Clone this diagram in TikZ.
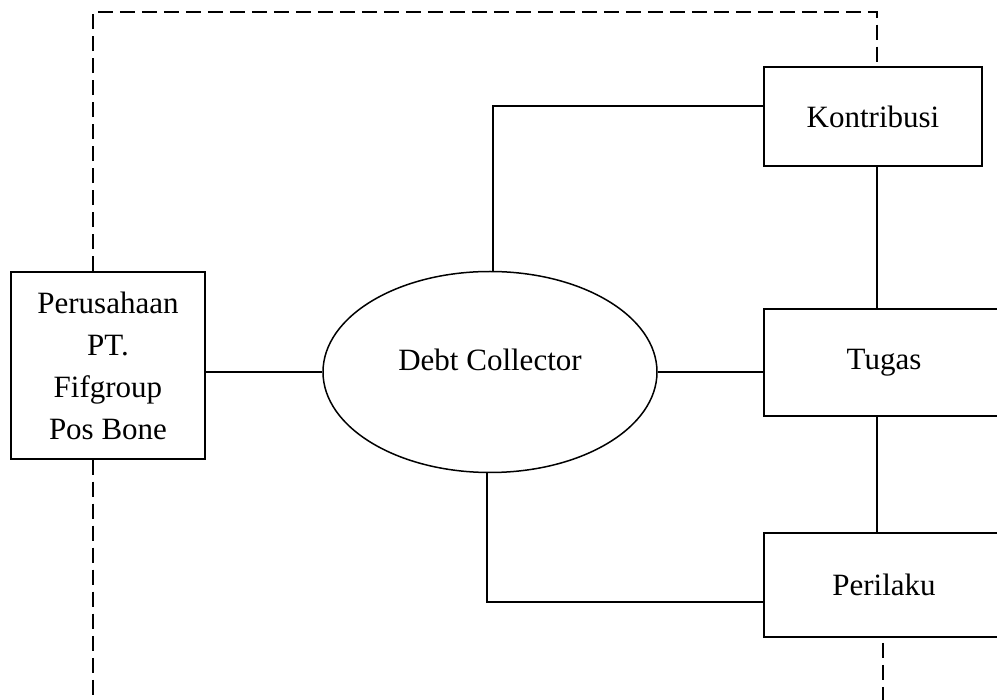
\documentclass[tikz,border=0pt]{standalone}
\usepackage{fontspec}
\setmainfont{Liberation Serif}
\usetikzlibrary{shapes.geometric}
\begin{document}
\begin{tikzpicture}[x=1pt, y=-1pt,
    font=\fontsize{31}{42}\selectfont,
    kotak/.style={draw, line width=1.5pt, inner sep=0pt, align=center},
    garis/.style={line width=1.5pt},
    putus/.style={line width=1.5pt, dash pattern=on 15pt off 7pt}]
  \useasboundingbox (0,0) rectangle (997,700);
  % nodes
  \node[kotak, minimum width=194pt, minimum height=187pt] (pers) at (108,365.5)
    {Perusahaan\\PT.\\Fifgroup\\Pos Bone};
  \node[draw, ellipse, line width=1.5pt, inner sep=0pt, minimum width=334pt, minimum height=201pt,
    label={[yshift=12pt]center:Debt Collector}] (elips) at (490,372) {};
  \node[kotak, minimum width=218pt, minimum height=99pt] (kontri) at (873,116.5) {Kontribusi};
  \node[kotak, minimum width=240pt, minimum height=107pt] (tugas) at (884,362.5) {Tugas};
  \node[kotak, minimum width=240pt, minimum height=104pt] (perilaku) at (884,585) {Perilaku};
  % helper coordinates
  \coordinate (kiri) at (93,0);
  \coordinate (sumbu) at (877,0);
  \coordinate (kanan) at (883,0);
  \coordinate (atas) at (0,12);
  \coordinate (bawah) at (0,700);
  \coordinate (atasE) at (493,106);
  \coordinate (bawahE) at (487,602);
  % solid connectors
  \draw[garis] (elips.west) -- (elips.west -| pers.east);
  \draw[garis] (elips.east) -- (elips.east -| tugas.west);
  \draw[garis] (elips.north -| atasE) -- (atasE) -- (atasE -| kontri.west);
  \draw[garis] (elips.south -| bawahE) -- (bawahE) -- (bawahE -| perilaku.west);
  \draw[garis] (kontri.south -| sumbu) -- (tugas.north -| sumbu);
  \draw[garis] (tugas.south -| sumbu) -- (perilaku.north -| sumbu);
  % dashed connectors
  \draw[putus] (pers.north -| kiri) -- (kiri |- atas) -- (atas -| sumbu) -- (kontri.north -| sumbu);
  \draw[putus] (pers.south -| kiri) -- (kiri |- bawah);
  \draw[putus] (perilaku.south -| kanan) ++(0,5) -- (kanan |- bawah);
\end{tikzpicture}
\end{document}
